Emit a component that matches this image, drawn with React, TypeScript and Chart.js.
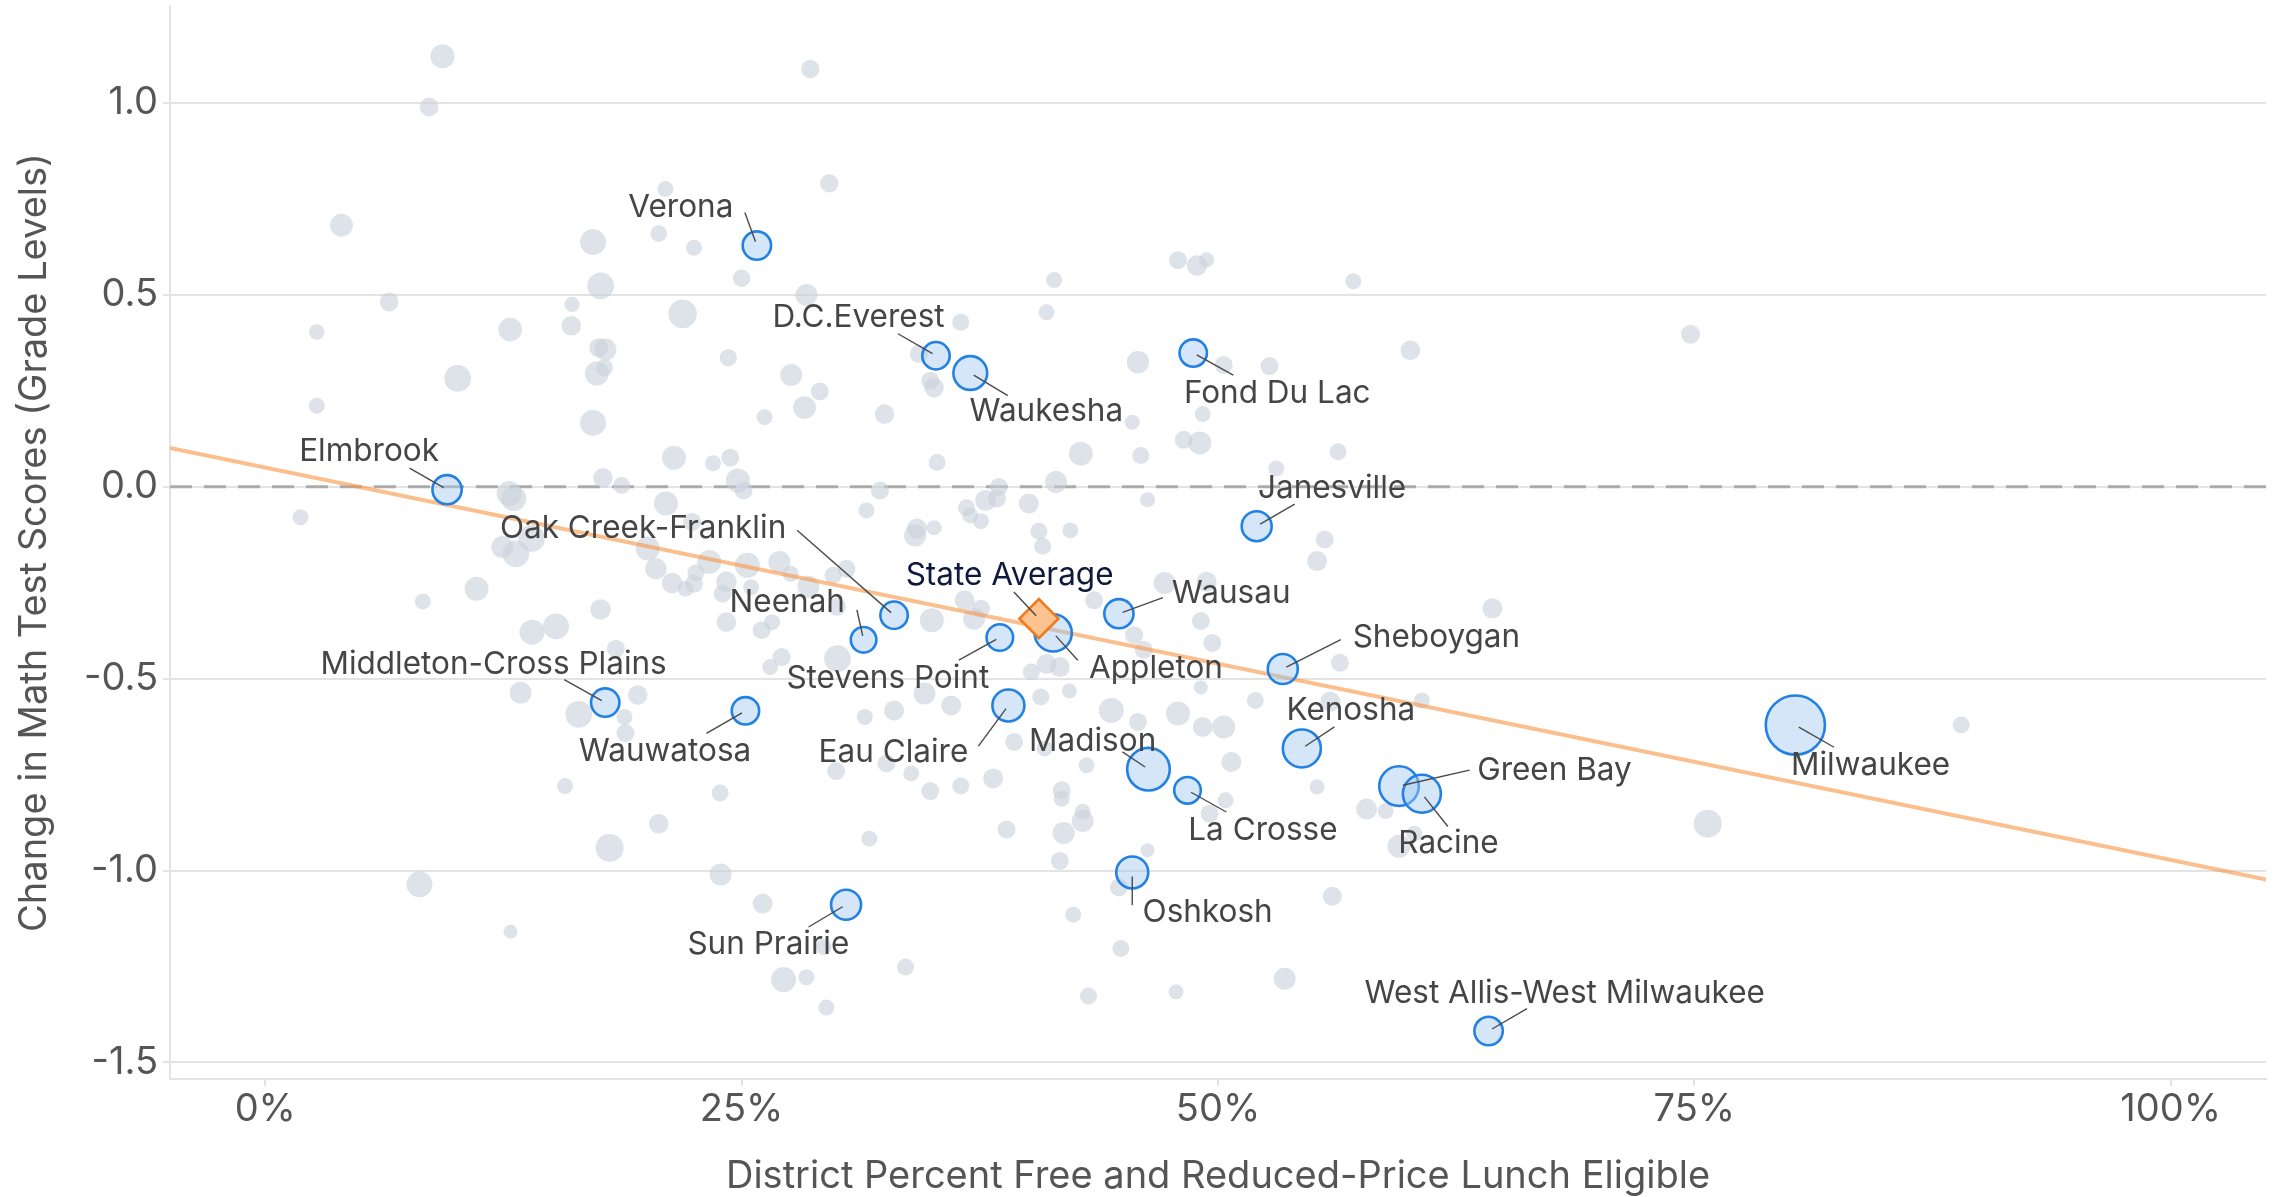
import { useEffect, useRef } from 'react';
import { Chart, registerables } from 'chart.js';

Chart.register(...registerables);

// ---------- DATA ----------
const xTickValues = [0, 25, 50, 75, 100];
const yTickValues = [-1.5, -1.0, -0.5, 0.0, 0.5, 1.0];

// other districts: [percent FRL eligible, change in grade levels, bubble size]
const otherDistricts: [number, number, number][] = [
  [9.3, 1.121, 12], [8.6, 0.989, 9.4], [28.6, 1.088, 9.2], [4.0, 0.681, 11.4], [21.0, 0.775, 8], [29.6, 0.79, 9.2],
  [17.2, 0.637, 13], [20.65, 0.659, 8.3], [22.5, 0.622, 8], [25.0, 0.543, 8.7], [17.6, 0.523, 13.4], [28.4, 0.499, 11],
  [6.5, 0.481, 9.4], [16.1, 0.475, 7.6], [2.7, 0.403, 7.8], [12.85, 0.409, 11.8], [16.06, 0.419, 9.8], [21.9, 0.45, 14.3],
  [17.5, 0.362, 9.5], [17.85, 0.357, 11], [17.4, 0.295, 12], [17.8, 0.31, 8.5], [24.3, 0.336, 8.7], [10.1, 0.282, 13.4],
  [2.7, 0.211, 8], [27.6, 0.291, 11], [29.1, 0.248, 9], [28.3, 0.206, 11.4], [26.2, 0.181, 8], [17.2, 0.166, 13],
  [41.4, 0.538, 8], [47.9, 0.59, 9], [48.9, 0.576, 10.3], [49.4, 0.591, 7.6], [57.1, 0.535, 8], [41.0, 0.454, 8],
  [36.5, 0.428, 8.5], [34.3, 0.346, 9], [34.9, 0.276, 9], [35.1, 0.258, 9.8], [45.8, 0.324, 11.2], [50.3, 0.317, 9],
  [52.7, 0.314, 9], [60.1, 0.355, 9.8], [32.5, 0.189, 9.8], [45.5, 0.168, 7.5], [49.2, 0.189, 8],
  [74.8, 0.397, 9.5], [89.0, -0.621, 8.5], [75.7, -0.878, 14],
  [21.45, 0.0755, 12], [23.5, 0.061, 8], [24.4, 0.0755, 9], [17.72, 0.023, 9.8], [18.7, 0.003, 8.5], [24.8, 0.016, 12],
  [25.1, -0.01, 9], [12.8, -0.018, 12.5], [13.04, -0.031, 12.5], [21.03, -0.044, 12], [1.85, -0.08, 8], [31.55, -0.062, 8],
  [22.4, -0.092, 9], [12.44, -0.157, 11], [13.15, -0.175, 13.4], [13.97, -0.135, 13.4], [20.07, -0.161, 12], [20.5, -0.214, 10.7],
  [21.35, -0.251, 10.3], [22.06, -0.266, 8], [22.5, -0.253, 9], [22.6, -0.225, 8.5], [23.3, -0.196, 12], [24.2, -0.248, 10.3],
  [24.0, -0.279, 9], [25.3, -0.205, 12.5], [25.5, -0.262, 8], [26.98, -0.196, 11], [27.57, -0.227, 8], [28.5, -0.261, 11],
  [29.8, -0.231, 8.5], [30.5, -0.214, 9], [11.09, -0.266, 12], [8.27, -0.299, 8], [17.6, -0.32, 10.3], [15.26, -0.364, 13],
  [14.0, -0.379, 12.5], [24.2, -0.353, 9.8], [26.05, -0.374, 9], [26.6, -0.353, 8], [30.0, -0.313, 9], [18.4, -0.422, 9],
  [30.03, -0.448, 13.4], [27.1, -0.444, 9], [26.5, -0.47, 8], [13.4, -0.537, 11], [16.45, -0.593, 13.4], [19.55, -0.543, 9.8],
  [18.85, -0.6, 8], [18.9, -0.642, 9], [31.46, -0.6, 8], [29.96, -0.741, 9], [15.73, -0.78, 8], [23.87, -0.798, 8.5],
  [20.65, -0.878, 9.8],
  [18.07, -0.941, 14], [23.9, -1.01, 11], [8.09, -1.036, 13], [12.87, -1.159, 7], [26.1, -1.086, 10], [27.2, -1.284, 12.5],
  [28.4, -1.278, 8], [29.45, -1.357, 8], [31.7, -0.917, 8], [29.3, -1.199, 8],
  [48.2, 0.122, 9], [49.05, 0.114, 11.5], [42.8, 0.086, 12], [45.95, 0.081, 8.5], [35.26, 0.063, 8.5], [56.3, 0.091, 8.5],
  [53.06, 0.047, 8], [41.5, 0.012, 11], [38.5, -0.001, 9], [32.26, -0.01, 9], [37.8, -0.036, 10.5], [38.4, -0.031, 9],
  [40.07, -0.044, 10], [46.3, -0.034, 7.5], [36.8, -0.055, 8.5], [37.0, -0.075, 8], [37.56, -0.09, 8], [34.2, -0.109, 10],
  [34.1, -0.127, 11], [35.1, -0.107, 7.5], [40.6, -0.116, 8.5], [42.25, -0.114, 8], [40.8, -0.155, 8.5], [55.6, -0.138, 9],
  [55.2, -0.194, 10], [47.2, -0.251, 11], [49.4, -0.248, 10], [36.7, -0.296, 10], [37.56, -0.318, 9], [34.98, -0.348, 12],
  [37.2, -0.344, 11], [43.5, -0.296, 9], [45.6, -0.387, 9], [46.1, -0.425, 9], [49.1, -0.35, 9], [49.7, -0.407, 9],
  [64.4, -0.317, 10], [56.4, -0.459, 9], [49.1, -0.523, 7], [51.96, -0.557, 8.5], [41.0, -0.462, 10], [41.7, -0.47, 10],
  [40.2, -0.483, 8.5], [34.6, -0.539, 11], [36.0, -0.57, 10], [33.0, -0.583, 10], [40.7, -0.548, 8.5], [42.2, -0.532, 7.5],
  [44.4, -0.583, 12.5], [47.9, -0.591, 12], [49.2, -0.626, 10], [50.3, -0.626, 11.5], [45.8, -0.613, 9], [60.7, -0.557, 8],
  [55.9, -0.56, 10], [55.2, -0.782, 7.5], [57.8, -0.84, 10.5], [58.8, -0.845, 8], [50.7, -0.717, 10], [43.1, -0.726, 8],
  [40.9, -0.682, 8], [38.2, -0.76, 10], [36.5, -0.78, 8.5], [34.9, -0.793, 9], [41.8, -0.791, 9], [41.8, -0.813, 8],
  [39.3, -0.665, 9], [42.9, -0.847, 8], [50.4, -0.817, 8], [49.56, -0.852, 9], [32.6, -0.721, 9], [33.9, -0.747, 8],
  [38.9, -0.893, 9], [41.9, -0.902, 11], [42.9, -0.871, 11], [41.7, -0.975, 9], [46.3, -0.947, 7], [44.8, -1.044, 9],
  [42.4, -1.115, 8], [44.9, -1.203, 8.5], [33.6, -1.251, 8.5], [43.2, -1.327, 8.5], [47.8, -1.316, 7.5], [53.5, -1.282, 11],
  [56.0, -1.067, 9.5], [59.5, -0.937, 11.5], [60.3, -0.904, 8],
];

// highlighted districts
const highlightNames = [
  'Verona', 'D.C.Everest', 'Waukesha', 'Fond Du Lac', 'Elmbrook', 'Janesville', 'Oak Creek-Franklin', 'Neenah',
  'Wausau', 'Appleton', 'Stevens Point', 'Sheboygan', 'Middleton-Cross Plains', 'Wauwatosa', 'Eau Claire', 'Kenosha',
  'Madison', 'La Crosse', 'Green Bay', 'Racine', 'Milwaukee', 'Oshkosh', 'Sun Prairie', 'West Allis-West Milwaukee',
];
const highlightFRL = [
  25.8, 35.2, 37.0, 48.7, 9.54, 52.03, 33.0, 31.4,
  44.8, 41.35, 38.55, 53.4, 17.84, 25.2, 39.0, 54.4,
  46.35, 48.4, 59.5, 60.7, 80.3, 45.5, 30.48, 64.2,
];
const highlightChange = [
  0.628, 0.341, 0.296, 0.348, -0.008, -0.103, -0.335, -0.399,
  -0.331, -0.381, -0.393, -0.475, -0.5625, -0.584, -0.57, -0.682,
  -0.736, -0.791, -0.78, -0.8, -0.621, -1.005, -1.089, -1.418,
];
const highlightSize = [
  14.2, 13.7, 16.9, 13.7, 14.6, 15, 13.7, 12.8,
  14.6, 18.6, 13.3, 15, 14.2, 13.7, 16, 19,
  21.3, 13.3, 19.8, 19, 29.6, 16, 15, 14.2,
];

const stateAverageName = 'State Average';
const stateAverageFRL = 40.6;
const stateAverageChange = -0.344;

// fitted trend line
const trendFRL = [-5, 105];
const trendChange = [0.1005, -1.0237];

// ---------- LAYOUT (label placement, pixels relative to the point) ----------
// [text dx, text dy, leader end dx, leader end dy]
const labelLayout: Record<string, [number, number, number, number]> = {
  'Verona': [-76, -38, -12, -33],
  'D.C.Everest': [-77.5, -38, -38, -22],
  'Waukesha': [76, 39, 37.5, 22.7],
  'Fond Du Lac': [84, 40, 40, 22],
  'Elmbrook': [-78, -38, -37.5, -21.6],
  'Janesville': [75.4, -37.7, 38, -22],
  'Oak Creek-Franklin': [-251, -86.7, -97, -85],
  'Neenah': [-76.3, -37.6, -6.7, -30],
  'Wausau': [112.3, -20, 44, -16],
  'Appleton': [102.8, 35.6, 24.6, 27.3],
  'Stevens Point': [-112, 40.6, -41, 22.7],
  'Sheboygan': [153.6, -31.4, 58, -29.4],
  'Middleton-Cross Plains': [-111.6, -38, -41, -23],
  'Wauwatosa': [-80.4, 41, -39, 22.6],
  'Eau Claire': [-115, 47, -30, 40.7],
  'Kenosha': [49, -38.3, 32.6, -21.6],
  'Madison': [-55.8, -27.3, -26, -17.3],
  'La Crosse': [75.4, 40, 38.8, 21.7],
  'Green Bay': [155.4, -15.3, 70.5, -16],
  'Racine': [26.6, 50, 26, 32.7],
  'Milwaukee': [75.2, 40.1, 38.7, 22.2],
  'Oshkosh': [75.4, 40, 0, 32.7],
  'Sun Prairie': [-77.7, 39.7, -37.5, 22.3],
  'West Allis-West Milwaukee': [76.1, -37.9, 38.4, -22.4],
  'State Average': [-29.3, -43.3, -25, -26.6],
};

const FONT = 'Inter, "Noto Sans", sans-serif';

const labelPlugin = {
  id: 'districtLabels',
  afterDatasetsDraw(chart: any) {
    const { ctx, scales } = chart;
    const xs = scales.x;
    const ys = scales.y;
    const items = highlightNames.map((n, i) => ({
      name: n,
      px: xs.getPixelForValue(highlightFRL[i]),
      py: ys.getPixelForValue(highlightChange[i]),
      color: '#454545',
    }));
    items.push({
      name: stateAverageName,
      px: xs.getPixelForValue(stateAverageFRL),
      py: ys.getPixelForValue(stateAverageChange),
      color: '#0e1a3d',
    });
    ctx.save();
    ctx.strokeStyle = '#4a4a4a';
    ctx.lineWidth = 1.4;
    for (const it of items) {
      const l = labelLayout[it.name];
      if (!l) continue;
      const len = Math.hypot(l[2], l[3]) || 1;
      const sx = it.px + (l[2] / len) * 4;
      const sy = it.py + (l[3] / len) * 4;
      ctx.beginPath();
      ctx.moveTo(sx, sy);
      ctx.lineTo(it.px + l[2], it.py + l[3]);
      ctx.stroke();
    }
    ctx.font = `31.5px ${FONT}`;
    ctx.textAlign = 'center';
    ctx.textBaseline = 'middle';
    for (const it of items) {
      const l = labelLayout[it.name];
      if (!l) continue;
      ctx.fillStyle = it.color;
      ctx.fillText(it.name, it.px + l[0], it.py + l[1]);
    }
    ctx.restore();
  },
};

export default function App() {
  const ref = useRef<HTMLCanvasElement>(null);

  useEffect(() => {
    const canvas = ref.current;
    if (!canvas) return;
    const chart = new Chart(canvas, {
      type: 'bubble',
      data: {
        datasets: [
          {
            type: 'line',
            label: 'zero',
            data: [{ x: -5, y: 0 }, { x: 105, y: 0 }],
            borderColor: '#ababab',
            borderWidth: 3,
            borderDash: [22, 12],
            pointRadius: 0,
            order: 6,
          } as any,
          {
            label: 'Other districts',
            data: otherDistricts.map(([x, y, r]) => ({ x, y, r })),
            backgroundColor: 'rgba(200,208,219,0.6)',
            borderWidth: 0,
            order: 5,
          },
          {
            type: 'line',
            label: 'trend',
            data: trendFRL.map((x, i) => ({ x, y: trendChange[i] })),
            borderColor: 'rgba(248,152,72,0.62)',
            borderWidth: 4,
            pointRadius: 0,
            order: 3,
          } as any,
          {
            label: 'Highlighted districts',
            data: highlightFRL.map((x, i) => ({ x, y: highlightChange[i], r: highlightSize[i] })),
            backgroundColor: 'rgba(160,200,240,0.45)',
            borderColor: '#2281e3',
            borderWidth: 2.6,
            order: 2,
          },
          {
            label: stateAverageName,
            data: [{ x: stateAverageFRL, y: stateAverageChange, r: 19.5 }],
            pointStyle: 'rectRot',
            backgroundColor: '#fdc28e',
            borderColor: '#f07a1a',
            borderWidth: 2.6,
            order: 1,
          } as any,
        ],
      },
      options: {
        animation: false,
        responsive: false,
        devicePixelRatio: 1,
        events: [],
        layout: { autoPadding: false, padding: { top: 6, right: 10, left: 0, bottom: 0 } },
        plugins: { legend: { display: false }, tooltip: { enabled: false } },
        scales: {
          x: {
            type: 'linear',
            min: -5,
            max: 105,
            afterBuildTicks: (s: any) => {
              s.ticks = xTickValues.map((v) => ({ value: v }));
            },
            afterFit: (s: any) => {
              s.height = 118;
              s.paddingLeft = 0;
              s.paddingRight = 0;
            },
            grid: { drawOnChartArea: false, drawTicks: true, tickLength: 7, color: '#e3e3e3', lineWidth: 2 },
            border: { display: true, color: '#e3e3e3', width: 2 },
            ticks: {
              color: '#555',
              font: { family: FONT, size: 38 },
              padding: 1,
              maxRotation: 0,
              callback: (v: any) => `${v}%`,
            },
            title: {
              display: true,
              text: 'District Percent Free and Reduced-Price Lunch Eligible',
              color: '#555',
              font: { family: FONT, size: 38 },
              padding: { top: 0, bottom: -2 },
            },
          },
          y: {
            type: 'linear',
            min: -1.543,
            max: 1.252,
            afterBuildTicks: (s: any) => {
              s.ticks = yTickValues.map((v) => ({ value: v }));
            },
            afterFit: (s: any) => {
              s.width = 170;
              s.paddingTop = 0;
              s.paddingBottom = 0;
            },
            grid: { color: '#e3e3e3', lineWidth: 2, tickLength: 7 },
            border: { display: true, color: '#e3e3e3', width: 2 },
            ticks: {
              color: '#555',
              font: { family: FONT, size: 38 },
              padding: 5,
              callback: (v: any) => Number(v).toFixed(1),
            },
            title: {
              display: true,
              text: 'Change in Math Test Scores (Grade Levels)',
              color: '#555',
              font: { family: FONT, size: 38 },
              padding: { top: 12, bottom: 0 },
            },
          },
        },
      },
      plugins: [labelPlugin],
    } as any);
    return () => chart.destroy();
  }, []);

  return (
    <div style={{ position: 'absolute', left: 0, top: 0, width: 2276, height: 1197, background: '#fff' }}>
      <canvas ref={ref} width={2276} height={1197} style={{ display: 'block', width: 2276, height: 1197 }} />
    </div>
  );
}
